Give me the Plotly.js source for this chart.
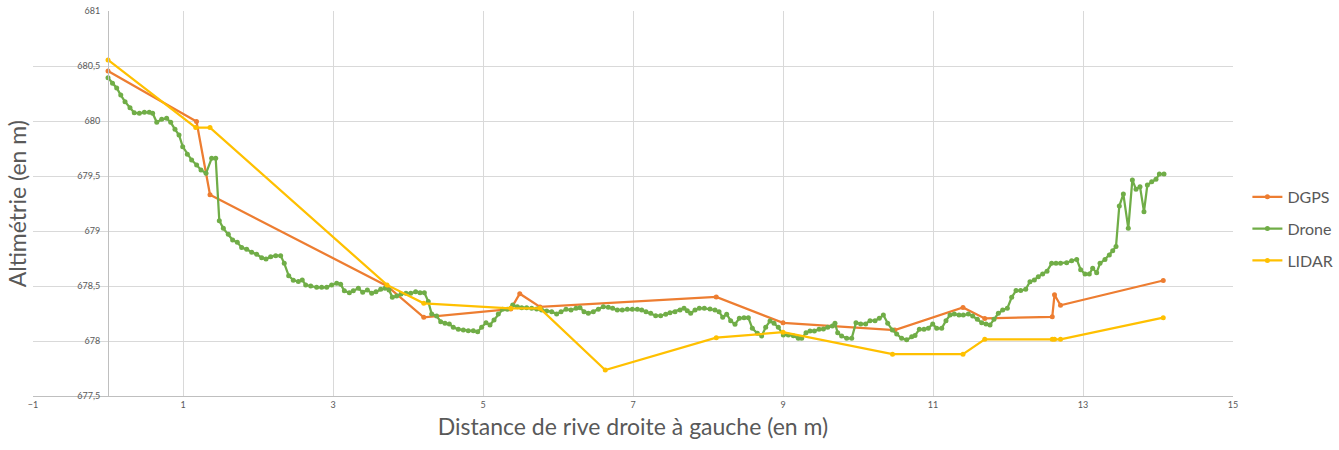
<!DOCTYPE html>
<html>
<head>
<meta charset="utf-8">
<script src="https://cdn.plot.ly/plotly-3.0.1.min.js"></script>
<style>html,body{margin:0;padding:0;background:#fff;}#chart{width:1339px;height:450px;}</style>
</head>
<body>
<div id="chart"></div>
<script>
const seriesNames = ["DGPS", "Drone", "LIDAR"];
const seriesColors = ["#ED7D31", "#70AD47", "#FFC000"];

const dgpsX = [0, 1.18, 1.36, 3.72, 4.21, 5.37, 5.49, 5.76, 8.11, 9.0, 10.49, 11.40, 11.69, 12.59, 12.62, 12.70, 14.07];
const dgpsY = [680.455, 679.995, 679.33, 678.50, 678.215, 678.29, 678.43, 678.31, 678.40, 678.165, 678.10, 678.305, 678.205, 678.22, 678.42, 678.325, 678.55];

const lidarX = [0, 1.17, 1.36, 3.72, 4.21, 5.37, 5.76, 6.63, 8.11, 9.0, 10.46, 11.40, 11.69, 12.59, 12.62, 12.70, 14.07];
const lidarY = [680.555, 679.94, 679.94, 678.51, 678.343, 678.297, 678.297, 677.736, 678.03, 678.08, 677.88, 677.88, 678.015, 678.015, 678.015, 678.015, 678.212];

const droneX = [0.00, 0.06, 0.116, 0.17, 0.227, 0.293, 0.35, 0.418, 0.485, 0.55, 0.595, 0.65, 0.716, 0.782, 0.836, 0.893, 0.947, 0.996, 1.058, 1.115, 1.182, 1.24, 1.307, 1.382, 1.436, 1.484, 1.538, 1.604, 1.662, 1.724, 1.782, 1.849, 1.916, 1.982, 2.049, 2.107, 2.169, 2.236, 2.302, 2.35, 2.409, 2.471, 2.538, 2.59, 2.636, 2.703, 2.782, 2.849, 2.916, 2.982, 3.049, 3.102, 3.151, 3.218, 3.271, 3.338, 3.396, 3.458, 3.516, 3.573, 3.636, 3.693, 3.747, 3.791, 3.849, 3.907, 3.973, 4.036, 4.102, 4.16, 4.218, 4.27, 4.316, 4.382, 4.436, 4.493, 4.551, 4.604, 4.671, 4.738, 4.804, 4.871, 4.929, 4.982, 5.04, 5.093, 5.147, 5.204, 5.262, 5.324, 5.396, 5.458, 5.516, 5.582, 5.649, 5.716, 5.782, 5.849, 5.916, 5.982, 6.04, 6.107, 6.173, 6.24, 6.293, 6.347, 6.404, 6.471, 6.538, 6.604, 6.671, 6.729, 6.791, 6.857, 6.924, 6.991, 7.058, 7.116, 7.173, 7.236, 7.302, 7.369, 7.436, 7.493, 7.56, 7.627, 7.68, 7.724, 7.769, 7.827, 7.884, 7.951, 8.027, 8.093, 8.147, 8.196, 8.249, 8.302, 8.36, 8.418, 8.48, 8.538, 8.591, 8.658, 8.716, 8.769, 8.827, 8.88, 8.938, 9.004, 9.071, 9.138, 9.204, 9.249, 9.307, 9.36, 9.418, 9.48, 9.538, 9.596, 9.658, 9.693, 9.729, 9.782, 9.849, 9.916, 9.973, 10.036, 10.102, 10.16, 10.227, 10.284, 10.338, 10.396, 10.458, 10.516, 10.582, 10.649, 10.716, 10.76, 10.818, 10.88, 10.938, 10.996, 11.049, 11.116, 11.173, 11.227, 11.284, 11.347, 11.404, 11.471, 11.529, 11.591, 11.649, 11.707, 11.76, 11.813, 11.871, 11.929, 11.991, 12.049, 12.107, 12.169, 12.236, 12.293, 12.351, 12.404, 12.462, 12.52, 12.582, 12.64, 12.70, 12.782, 12.849, 12.916, 12.969, 13.027, 13.084, 13.129, 13.182, 13.227, 13.293, 13.351, 13.396, 13.44, 13.484, 13.538, 13.604, 13.658, 13.707, 13.76, 13.813, 13.858, 13.916, 13.973, 14.018, 14.08];
const droneY = [680.394, 680.343, 680.30, 680.236, 680.176, 680.12, 680.075, 680.07, 680.079, 680.079, 680.07, 679.988, 680.015, 680.024, 679.988, 679.924, 679.873, 679.767, 679.697, 679.645, 679.60, 679.555, 679.524, 679.661, 679.661, 679.094, 679.024, 678.97, 678.918, 678.897, 678.849, 678.833, 678.806, 678.788, 678.757, 678.745, 678.767, 678.776, 678.776, 678.706, 678.594, 678.552, 678.54, 678.555, 678.509, 678.50, 678.488, 678.488, 678.488, 678.509, 678.524, 678.515, 678.457, 678.439, 678.457, 678.479, 678.443, 678.464, 678.434, 678.448, 678.47, 678.479, 678.464, 678.397, 678.409, 678.427, 678.434, 678.434, 678.448, 678.439, 678.439, 678.36, 678.245, 678.227, 678.176, 678.161, 678.155, 678.124, 678.106, 678.10, 678.094, 678.094, 678.085, 678.124, 678.167, 678.145, 678.19, 678.245, 678.288, 678.288, 678.327, 678.312, 678.303, 678.303, 678.297, 678.291, 678.282, 678.273, 678.267, 678.245, 678.267, 678.288, 678.282, 678.297, 678.303, 678.267, 678.252, 678.267, 678.288, 678.312, 678.306, 678.297, 678.282, 678.282, 678.288, 678.288, 678.288, 678.282, 678.267, 678.252, 678.23, 678.23, 678.243, 678.257, 678.267, 678.282, 678.297, 678.276, 678.252, 678.282, 678.297, 678.297, 678.29, 678.282, 678.267, 678.215, 678.243, 678.185, 678.152, 678.206, 678.212, 678.212, 678.115, 678.07, 678.045, 678.124, 678.182, 678.161, 678.124, 678.055, 678.055, 678.048, 678.024, 678.024, 678.075, 678.091, 678.091, 678.106, 678.109, 678.124, 678.136, 678.161, 678.075, 678.045, 678.024, 678.024, 678.167, 678.155, 678.155, 678.185, 678.185, 678.206, 678.236, 678.161, 678.10, 678.064, 678.024, 678.012, 678.039, 678.05, 678.106, 678.106, 678.115, 678.155, 678.115, 678.115, 678.185, 678.236, 678.245, 678.236, 678.236, 678.245, 678.227, 678.197, 678.167, 678.155, 678.145, 678.197, 678.252, 678.282, 678.297, 678.397, 678.458, 678.458, 678.47, 678.539, 678.555, 678.585, 678.609, 678.635, 678.706, 678.706, 678.706, 678.712, 678.73, 678.742, 678.648, 678.609, 678.609, 678.661, 678.621, 678.706, 678.742, 678.782, 678.821, 678.858, 679.227, 679.336, 679.024, 679.464, 679.379, 679.403, 679.176, 679.418, 679.448, 679.47, 679.518, 679.518];

const xTickVals = [-1, 1, 3, 5, 7, 9, 11, 13, 15];
const yTickVals = [677.5, 678, 678.5, 679, 679.5, 680, 680.5, 681];

const xsList = [dgpsX, droneX, lidarX];
const ysList = [dgpsY, droneY, lidarY];

const traces = seriesNames.map((name, i) => ({
  type: 'scatter',
  mode: 'lines+markers',
  name: name,
  legendgroup: name,
  x: xsList[i],
  y: ysList[i],
  line: {color: seriesColors[i], width: 2.25},
  marker: {color: seriesColors[i], size: 5}
}));

const font = "Lato, 'Open Sans', sans-serif";
const layout = {
  width: 1339,
  height: 450,
  margin: {l: 33, r: 106, t: 11, b: 54, autoexpand: false},
  paper_bgcolor: '#ffffff',
  plot_bgcolor: '#ffffff',
  separators: ', ',
  font: {family: font, color: '#595959'},
  showlegend: true,
  legend: {
    x: 1.012, xanchor: 'left', y: 0.434, yanchor: 'middle',
    font: {family: font, size: 16, color: '#595959'},
    bgcolor: 'rgba(0,0,0,0)', tracegroupgap: 8, traceorder: 'grouped'
  },
  xaxis: {
    range: [-1, 15],
    tickvals: xTickVals,
    showgrid: true, gridcolor: '#d9d9d9', gridwidth: 1,
    zeroline: false,
    showline: true, linecolor: '#bfbfbf', linewidth: 1, mirror: false,
    ticks: '',
    tickfont: {family: font, size: 9, color: '#595959'},
    title: {text: 'Distance de rive droite à gauche (en m)', font: {family: font, size: 23, color: '#595959'}, standoff: 10}
  },
  yaxis: {
    range: [677.5, 681],
    tickvals: yTickVals,
    anchor: 'free', position: 0.0625,
    showgrid: true, gridcolor: '#d9d9d9', gridwidth: 1,
    zeroline: false,
    showline: true, linecolor: '#bfbfbf', linewidth: 1,
    ticks: 'outside', ticklen: 6, tickcolor: 'rgba(0,0,0,0)',
    tickfont: {family: font, size: 9, color: '#595959'}
  },
  annotations: [{
    text: 'Altimétrie (en m)',
    xref: 'paper', yref: 'paper',
    x: -0.0135, y: 0.5, xanchor: 'center', yanchor: 'middle',
    textangle: -90, showarrow: false,
    font: {family: font, size: 23, color: '#595959'}
  }]
};

Plotly.newPlot('chart', traces, layout, {displayModeBar: false, staticPlot: true});
</script>
</body>
</html>
